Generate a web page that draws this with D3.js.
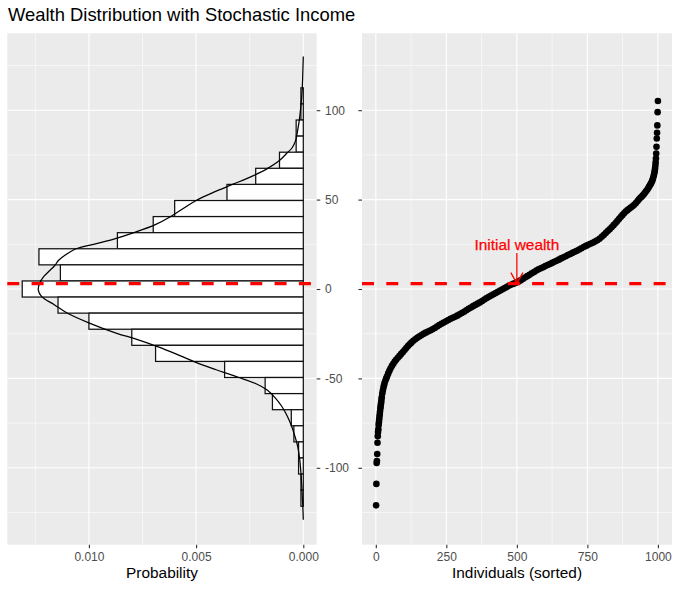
<!DOCTYPE html>
<html>
<head>
<meta charset="utf-8">
<script src="https://cdn.jsdelivr.net/npm/d3@7"></script>
<style>
  body { margin: 0; background: #fff; }
  text { font-family: "Liberation Sans", Arial, Helvetica, sans-serif; }
</style>
</head>
<body>
<svg width="680" height="590"></svg>
<script>
// histogram: bin centres (wealth) and probability density, bin width 9
let binWidth = 9;
let binMid = [108, 99, 90, 81, 72, 63, 54, 45, 36, 27, 18, 9, 0,
  -9, -18, -27, -36, -45, -54, -63, -72, -81, -90, -99, -108, -117];
let binProb = [0.000111, 0.000111, 0.000333, 0.000333, 0.00111, 0.00222, 0.00356, 0.0060, 0.0070, 0.00867, 0.01233, 0.01133, 0.01311,
  0.01144, 0.0100, 0.0080, 0.00689, 0.00367, 0.00178, 0.00144, 0.00056, 0.00044, 0.00022, 0.00022, 0.00011, 0.00011];

// density curve
let densWealth = [130, 122, 112, 104, 95, 89, 83, 79, 75.8, 72, 67.2, 63, 58.5, 54, 49.5, 45, 40.4, 36, 31.5, 28,
  25.5, 22.5, 19, 16.2, 13, 10.6, 7, 3.2, -0.6, -4.3, -8.9, -13.6, -19.2, -24.8, -28, -32.2, -36, -40.6, -45, -49.5,
  -53, -56.4, -61, -65.7, -71, -76.9, -82, -88.1, -95, -103, -110, -116, -122, -129];
let densProb = [0, 0.00002, 0.00005, 0.0001, 0.00018, 0.00026, 0.00036, 0.00052, 0.00078, 0.0011, 0.0017, 0.0024, 0.0033, 0.0042, 0.005, 0.0056, 0.0062, 0.0069, 0.0079, 0.0088,
  0.0096, 0.0106, 0.0111, 0.0114, 0.0116, 0.0118, 0.0121, 0.0123, 0.01236, 0.0122, 0.0116, 0.011, 0.00995, 0.0087, 0.0078, 0.0068, 0.006, 0.0051, 0.0041, 0.003,
  0.0022, 0.0017, 0.0013, 0.001, 0.00075, 0.00054, 0.0004, 0.00026, 0.00017, 0.00011, 0.00007, 0.00005, 0.00002, 0];

// individuals sorted by wealth (rank, wealth)
let rank = [
  1, 2, 3, 4, 5, 6, 7, 8, 9, 10,
  11, 12, 13, 14, 15, 16, 17, 18, 19, 20,
  21, 23, 25, 27, 29, 31, 34, 37, 40, 44,
  48, 52, 57, 62, 67, 72, 78, 84, 90, 96,
  102, 108, 114, 120, 126, 133, 140, 147, 154, 161,
  169, 177, 185, 193, 201, 209, 217, 225, 233, 241,
  249, 257, 265, 273, 281, 289, 297, 305, 313, 321,
  329, 337, 345, 353, 361, 369, 377, 385, 393, 401,
  409, 417, 425, 433, 441, 449, 457, 465, 473, 481,
  489, 497, 505, 513, 521, 529, 537, 545, 553, 561,
  569, 577, 585, 593, 601, 609, 617, 625, 633, 641,
  649, 657, 665, 673, 681, 689, 697, 705, 713, 721,
  729, 737, 745, 753, 761, 769, 777, 785, 793, 801,
  808, 815, 822, 829, 836, 843, 850, 856, 862, 868,
  874, 880, 886, 892, 898, 904, 910, 916, 922, 928,
  933, 938, 942, 946, 950, 954, 958, 962, 966, 969,
  972, 975, 977, 980, 982, 984, 986, 988, 989, 990,
  991, 992, 993, 994, 995, 996, 997, 998, 999, 1000];
let wealth = [
  -121, -109, -97.3, -96.2, -92.3, -86, -82.3, -80, -78.5, -76,
  -74.5, -73, -71.5, -70, -68.5, -67, -65.8, -64.5, -63.3, -62,
  -60.5, -58.5, -56.8, -55.2, -53.8, -52.6, -51.2, -50, -48.8, -47.2,
  -45.8, -44.5, -43, -41.8, -40.6, -39.6, -38.5, -37.4, -36.3, -35.2,
  -34.1, -33, -31.9, -30.9, -30, -29, -28.1, -27.3, -26.6, -25.9,
  -25.1, -24.4, -23.8, -23.2, -22.5, -21.8, -21, -20.2, -19.4, -18.7,
  -18, -17.3, -16.7, -16.1, -15.5, -14.9, -14.1, -13.4, -12.7, -11.9,
  -11.1, -10.4, -9.6, -8.9, -8.2, -7.5, -6.7, -5.9, -5.1, -4.4,
  -3.7, -3, -2.3, -1.6, -0.9, -0.2, 0.5, 1.2, 1.9, 2.5,
  3, 3.5, 4.1, 4.8, 5.6, 6.4, 7.2, 8, 8.8, 9.5,
  10.3, 11, 11.6, 12.2, 12.8, 13.4, 14, 14.6, 15.2, 15.8,
  16.4, 17.1, 17.7, 18.3, 19, 19.6, 20.2, 20.8, 21.4, 22.1,
  22.8, 23.5, 24.1, 24.7, 25.3, 25.9, 26.5, 27.2, 28.1, 29.2,
  30.2, 31.3, 32.4, 33.4, 34.5, 35.7, 36.9, 38, 39.1, 40.2,
  41.3, 42.3, 43.3, 44.1, 44.9, 45.6, 46.3, 47.1, 48.1, 49.2,
  50.2, 51, 51.6, 52.3, 53, 53.8, 54.6, 55.5, 56.5, 57.3,
  58.1, 58.9, 59.6, 60.6, 61.5, 62.6, 63.8, 65.2, 66.3, 67.5,
  69, 70.8, 73, 75.8, 79.5, 84.2, 87.4, 91.5, 98.9, 105.1];

let initialWealth = 3;

let yTicks = [-100, -50, 0, 50, 100];
let yMinor = [-125, -75, -25, 25, 75, 125];
let probTicks = [0.010, 0.005, 0.000];
let probMinor = [0.0125, 0.0075, 0.0025];
let rankTicks = [0, 250, 500, 750, 1000];
let rankMinor = [125, 375, 625, 875];

let panelTop = 33.3, panelBottom = 544.7;
let leftPanel = [7.3, 316.7];
let rightPanel = [362, 672];

let svg = d3.select("svg");
svg.append("rect").attr("width", 680).attr("height", 590).attr("fill", "#fff");

let yScale = d3.scaleLinear().domain([-143, 143]).range([panelBottom, panelTop]);
// probability axis is reversed: 0 on the right
let xProb = d3.scaleLinear().domain([0.013806, -0.000625]).range(leftPanel);
let xRank = d3.scaleLinear().domain([-48.95, 1049.95]).range(rightPanel);

function panel(g, xs, xMajor, xMinor) {
  let [x0, x1] = xs.range();
  g.append("rect")
    .attr("x", x0).attr("y", panelTop)
    .attr("width", x1 - x0).attr("height", panelBottom - panelTop)
    .attr("fill", "#EBEBEB");
  g.selectAll(".hminor").data(yMinor).enter().append("line")
    .attr("x1", x0).attr("x2", x1)
    .attr("y1", (d) => yScale(d)).attr("y2", (d) => yScale(d))
    .attr("stroke", "#fff").attr("stroke-width", 0.55);
  g.selectAll(".vminor").data(xMinor).enter().append("line")
    .attr("y1", panelTop).attr("y2", panelBottom)
    .attr("x1", (d) => xs(d)).attr("x2", (d) => xs(d))
    .attr("stroke", "#fff").attr("stroke-width", 0.55);
  g.selectAll(".hmajor").data(yTicks).enter().append("line")
    .attr("x1", x0).attr("x2", x1)
    .attr("y1", (d) => yScale(d)).attr("y2", (d) => yScale(d))
    .attr("stroke", "#fff").attr("stroke-width", 1.1);
  g.selectAll(".vmajor").data(xMajor).enter().append("line")
    .attr("y1", panelTop).attr("y2", panelBottom)
    .attr("x1", (d) => xs(d)).attr("x2", (d) => xs(d))
    .attr("stroke", "#fff").attr("stroke-width", 1.1);
}

let gL = svg.append("g");
let gR = svg.append("g");
panel(gL, xProb, probTicks, probMinor);
panel(gR, xRank, rankTicks, rankMinor);

// histogram bars
gL.selectAll("rect.bar")
  .data(binMid)
  .enter()
  .append("rect")
  .attr("class", "bar")
  .attr("x", (d, i) => xProb(binProb[i]))
  .attr("width", (d, i) => xProb(0) - xProb(binProb[i]))
  .attr("y", (d) => yScale(d + binWidth / 2))
  .attr("height", (d) => yScale(d - binWidth / 2) - yScale(d + binWidth / 2))
  .attr("fill", "#fff")
  .attr("stroke", "#111")
  .attr("stroke-width", 1.25);

// density curve
let densLine = d3.line()
  .x((d, i) => xProb(densProb[i]))
  .y((d) => yScale(d))
  .curve(d3.curveCatmullRom);
gL.append("path")
  .attr("d", densLine(densWealth))
  .attr("fill", "none")
  .attr("stroke", "#000")
  .attr("stroke-width", 1.25);

// sorted individuals
gR.selectAll("circle")
  .data(rank)
  .enter()
  .append("circle")
  .attr("cx", (d) => xRank(d))
  .attr("cy", (d, i) => yScale(wealth[i]))
  .attr("r", 3.3)
  .attr("fill", "#000");

// initial wealth lines
[[gL, leftPanel], [gR, rightPanel]].forEach(([g, r]) => {
  g.append("line")
    .attr("x1", r[0]).attr("x2", r[1])
    .attr("y1", yScale(initialWealth)).attr("y2", yScale(initialWealth))
    .attr("stroke", "#FF0000")
    .attr("stroke-width", 3.2)
    .attr("stroke-dasharray", "12,12.3");
});

// annotation
let ax = xRank(500);
let ay = yScale(initialWealth);
gR.append("line")
  .attr("x1", ax).attr("x2", ax)
  .attr("y1", yScale(20.1)).attr("y2", ay)
  .attr("stroke", "#FF0000").attr("stroke-width", 1.3);
gR.append("path")
  .attr("d", `M${ax - 6},${ay - 11}L${ax},${ay}L${ax + 6},${ay - 11}`)
  .attr("fill", "none").attr("stroke", "#FF0000").attr("stroke-width", 1.3);
gR.append("text")
  .attr("x", ax).attr("y", yScale(21.8))
  .attr("text-anchor", "middle")
  .attr("fill", "#FF0000")
  .attr("font-size", "15.4px")
  .attr("stroke", "#FF0000").attr("stroke-width", 0.25)
  .text("Initial wealth");

// axes
function styleAxis(g) {
  g.select(".domain").remove();
  g.selectAll(".tick line").attr("stroke", "#333").attr("stroke-width", 1.1);
  g.selectAll(".tick text").attr("fill", "#4d4d4d").attr("font-size", "12px")
    .attr("font-family", '"Liberation Sans", Arial, sans-serif');
}

svg.append("g")
  .attr("transform", `translate(${leftPanel[1]},0)`)
  .call(d3.axisRight(yScale).tickValues(yTicks).tickSize(3.6).tickPadding(4.7).tickFormat((d) => String(d)))
  .call(styleAxis);
svg.append("g")
  .attr("transform", `translate(${rightPanel[0]},0)`)
  .call(d3.axisLeft(yScale).tickValues(yTicks).tickSize(3.6).tickFormat(""))
  .call(styleAxis);
svg.append("g")
  .attr("transform", `translate(0,${panelBottom})`)
  .call(d3.axisBottom(xProb).tickValues(probTicks).tickSize(3.6).tickPadding(4).tickFormat(d3.format(".3f")))
  .call(styleAxis);
svg.append("g")
  .attr("transform", `translate(0,${panelBottom})`)
  .call(d3.axisBottom(xRank).tickValues(rankTicks).tickSize(3.6).tickPadding(4).tickFormat((d) => String(d)))
  .call(styleAxis);

// axis titles and title
svg.append("text")
  .attr("x", (leftPanel[0] + leftPanel[1]) / 2).attr("y", 578)
  .attr("text-anchor", "middle").attr("font-size", "15.4px").attr("fill", "#000")
  .text("Probability");
svg.append("text")
  .attr("x", (rightPanel[0] + rightPanel[1]) / 2).attr("y", 578)
  .attr("text-anchor", "middle").attr("font-size", "15.4px").attr("fill", "#000")
  .text("Individuals (sorted)");
svg.append("text")
  .attr("x", 8).attr("y", 21)
  .attr("font-size", "18.4px").attr("fill", "#000")
  .text("Wealth Distribution with Stochastic Income");
</script>
</body>
</html>
